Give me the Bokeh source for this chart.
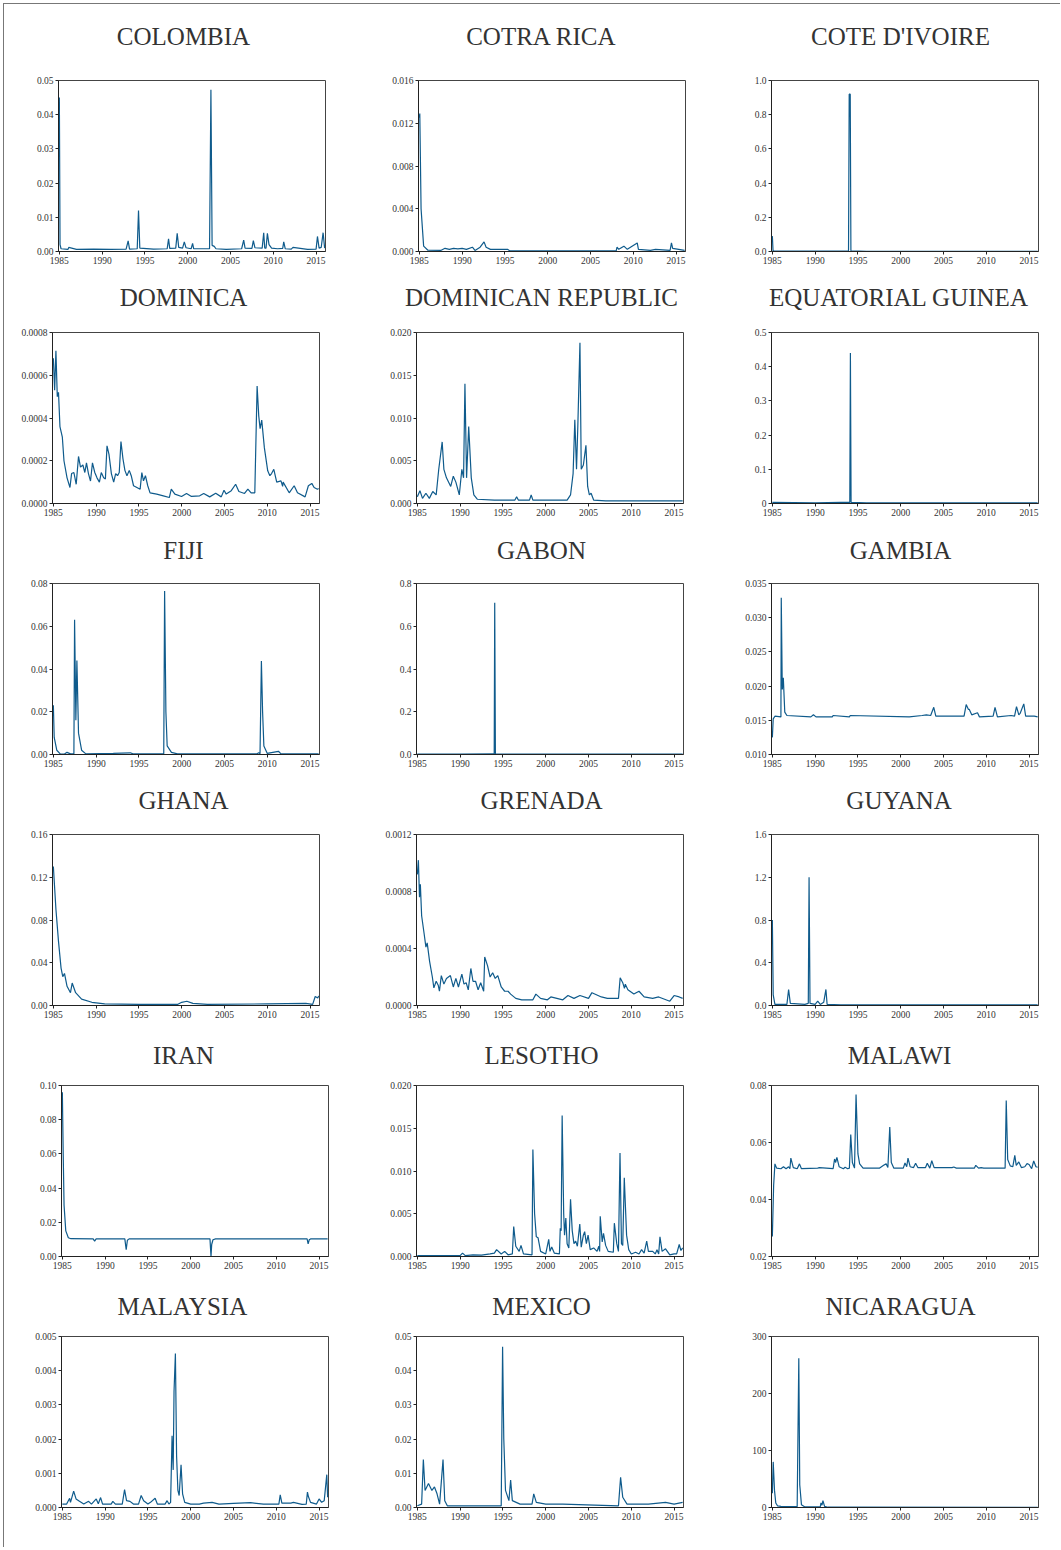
from bokeh.plotting import figure
from bokeh.models import Range1d, FixedTicker, Title
from bokeh.layouts import column, row
from bokeh.embed import file_html
from bokeh.resources import INLINE

# ---------------- data ----------------
x_ticks = [1985, 1990, 1995, 2000, 2005, 2010, 2015]
x_labels = ["1985", "1990", "1995", "2000", "2005", "2010", "2015"]

colombia_x = [1985.0, 1985.08, 1985.2, 1986.0, 1986.1, 1987.0, 1989.0, 1991.0, 1992.8, 1993.04, 1993.2, 1994.1, 1994.25, 1994.4,
              1996.0, 1997.6, 1997.76, 1997.9, 1998.6, 1998.77, 1998.95, 1999.4, 1999.6, 1999.8, 2000.4, 2000.57, 2000.7,
              2002.55, 2002.71, 2002.85, 2003.1, 2003.3, 2004.5, 2006.3, 2006.54, 2006.7, 2007.5, 2007.67, 2007.85, 2008.7,
              2008.88, 2009.0, 2009.15, 2009.31, 2009.5, 2009.8, 2010.5, 2011.1, 2011.22, 2011.4, 2012.1, 2012.3, 2014.0,
              2015.0, 2015.16, 2015.35, 2015.6, 2015.82, 2016.0]
colombia_y = [0.045, 0.002, 0.0008, 0.0006, 0.0012, 0.0006, 0.0007, 0.0006, 0.0007, 0.0031, 0.0007, 0.0008, 0.012, 0.001,
              0.0007, 0.0008, 0.0037, 0.0009, 0.0010, 0.0053, 0.0012, 0.0010, 0.0028, 0.0011, 0.0008, 0.0024, 0.0008,
              0.0008, 0.0473, 0.0018, 0.0015, 0.0008, 0.0006, 0.0008, 0.0033, 0.0010, 0.0009, 0.0032, 0.0011, 0.0010,
              0.0055, 0.0010, 0.0010, 0.0053, 0.0020, 0.0010, 0.0008, 0.0009, 0.0028, 0.0008, 0.0007, 0.0012, 0.0006,
              0.0007, 0.0044, 0.0010, 0.0012, 0.0055, 0.0010]

costarica_x = [1985.0, 1985.05, 1985.2, 1985.5, 1986.0, 1987.5, 1988.0, 1988.5, 1989.0, 1989.5, 1990.0, 1990.5, 1991.2,
               1991.5, 1992.1, 1992.56, 1992.8, 1993.3, 1995.3, 1995.6, 2008.0, 2008.1, 2008.3, 2008.9, 2009.3, 2010.46,
               2010.6, 2012.0, 2012.6, 2014.3, 2014.46, 2014.6, 2015.3, 2016.0]
costarica_y = [0.0125, 0.0129, 0.004, 0.0005, 0.00012, 0.0001, 0.0003, 0.0002, 0.0003, 0.00025, 0.0003, 0.0002, 0.0004,
               0.0001, 0.0004, 0.0009, 0.0004, 0.0002, 0.0002, 0.00005, 0.00005, 0.0004, 0.0002, 0.0005, 0.0002, 0.0008,
               0.0002, 0.0001, 0.0002, 0.0001, 0.0008, 0.0003, 0.0002, 0.0001]

cotedivoire_x = [1985.0, 1985.08, 1985.2, 1990.0, 1992.0, 1993.9, 1993.98, 1994.1, 1994.18, 1996.0, 2005.0, 2016.0]
cotedivoire_y = [0.09, 0.005, 0.002, 0.002, 0.003, 0.004, 0.92, 0.92, 0.004, 0.001, 0.001, 0.001]

dominica_x = [1985.0, 1985.15, 1985.3, 1985.46, 1985.6, 1985.77, 1986.05, 1986.24, 1986.6, 1986.94, 1987.13, 1987.4,
              1987.67, 1987.94, 1988.17, 1988.45, 1988.68, 1988.87, 1989.1, 1989.34, 1989.57, 1989.84, 1990.1, 1990.38,
              1990.6, 1990.88, 1991.08, 1991.27, 1991.5, 1991.78, 1992.05, 1992.28, 1992.5, 1992.7, 1992.9, 1993.13,
              1993.36, 1993.6, 1993.87, 1994.1, 1994.37, 1994.76, 1995.14, 1995.34, 1995.53, 1995.76, 1996.03, 1996.3,
              1997.08, 1997.85, 1998.55, 1998.78, 1999.2, 1999.98, 2000.56, 2001.14, 2002.1, 2002.57, 2003.27, 2003.97,
              2004.62, 2004.94, 2005.2, 2005.79, 2006.3, 2006.68, 2007.34, 2007.73, 2008.11, 2008.54, 2008.81, 2009.0,
              2009.16, 2009.35, 2009.66, 2010.05, 2010.3, 2010.5, 2010.76, 2011.1, 2011.6, 2011.79, 2011.85, 2012.56,
              2013.14, 2013.53, 2014.42, 2014.8, 2015.2, 2015.47, 2015.86, 2016.0]
dominica_y = [0.00068, 0.00053, 0.000714, 0.0005, 0.00052, 0.00036, 0.00031, 0.0002, 0.00012, 0.000075, 0.00014, 0.000145,
              0.00009, 0.00022, 0.00017, 0.00018, 0.000145, 0.00019, 0.00014, 0.000105, 0.00019, 0.000145, 0.00012, 0.0001,
              0.000145, 0.00012, 0.000115, 0.00027, 0.00023, 0.00014, 0.0001, 0.00014, 0.00013, 0.000145, 0.00029, 0.00021,
              0.000155, 0.00013, 0.000155, 0.00013, 0.000083, 0.000075, 0.000067, 0.000145, 0.000106, 0.00013, 0.000083,
              0.00005, 0.000044, 0.000036, 0.000028, 0.000067, 0.000044, 0.000033, 0.000047, 0.000033, 0.000036, 0.000047,
              0.000031, 0.000048, 0.000031, 0.000062, 0.000044, 0.00006, 0.00009, 0.000056, 0.000047, 0.000067, 0.00005,
              0.00005, 0.00055, 0.00041, 0.00035, 0.00039, 0.00026, 0.000153, 0.00013, 0.00014, 0.00016, 0.0001, 0.000106,
              0.00008, 0.0001, 0.00005, 0.000083, 0.00005, 0.000031, 0.000083, 0.000094, 0.000075, 0.000067, 0.00007]

domrep_x = [1985.0, 1985.3, 1985.6, 1986.0, 1986.4, 1986.8, 1987.2, 1987.5, 1987.9, 1988.1, 1988.4, 1988.9, 1989.2, 1989.5,
            1989.9, 1990.2, 1990.4, 1990.56, 1990.75, 1991.0, 1991.3, 1991.6, 1992.0, 1994.0, 1996.4, 1996.6, 1996.8, 1998.1,
            1998.3, 1998.5, 2002.5, 2002.9, 2003.2, 2003.4, 2003.6, 2003.75, 2004.0, 2004.15, 2004.4, 2004.7, 2004.9, 2005.1,
            2005.3, 2005.6, 2007.0, 2010.0, 2016.0]
domrep_y = [0.0008, 0.0015, 0.0006, 0.0012, 0.0006, 0.0014, 0.001, 0.004, 0.0072, 0.004, 0.003, 0.002, 0.0032, 0.0025,
            0.001, 0.004, 0.003, 0.014, 0.003, 0.009, 0.003, 0.001, 0.0005, 0.0004, 0.0004, 0.0008, 0.0004, 0.0004,
            0.001, 0.0004, 0.0004, 0.001, 0.0035, 0.0098, 0.004, 0.009, 0.0188, 0.004, 0.0045, 0.0068, 0.002, 0.001,
            0.0012, 0.0004, 0.0003, 0.0003, 0.0003]

eqguinea_x = [1985.0, 1990.0, 1993.0, 1994.05, 1994.12, 1994.2, 1996.0, 2005.0, 2016.0]
eqguinea_y = [0.003, 0.002, 0.003, 0.003, 0.44, 0.003, 0.002, 0.002, 0.002]

fiji_x = [1985.0, 1985.1, 1985.4, 1985.8, 1986.3, 1986.6, 1987.0, 1987.4, 1987.48, 1987.63, 1987.75, 1987.94, 1988.3,
          1988.8, 1992.0, 1994.0, 1994.3, 1997.9, 1998.0, 1998.15, 1998.3, 1998.8, 1999.5, 2008.8, 2009.0, 2009.15,
          2009.31, 2009.45, 2009.6, 2010.0, 2011.3, 2011.6, 2016.0]
fiji_y = [0.023, 0.008, 0.002, 0.0003, 0.0002, 0.001, 0.0003, 0.0003, 0.063, 0.016, 0.044, 0.01, 0.002, 0.0003, 0.0005,
          0.0008, 0.0003, 0.0003, 0.0765, 0.02, 0.004, 0.001, 0.0003, 0.0003, 0.0008, 0.0003, 0.0437, 0.02, 0.004,
          0.0005, 0.0015, 0.0003, 0.0003]

gabon_x = [1985.0, 1990.0, 1993.9, 1993.98, 1994.04, 1994.12, 1996.0, 2005.0, 2016.0]
gabon_y = [0.002, 0.002, 0.003, 0.003, 0.71, 0.003, 0.002, 0.002, 0.002]

gambia_x = [1985.0, 1985.1, 1985.3, 1986.0, 1986.04, 1986.16, 1986.28, 1986.45, 1986.7, 1989.5, 1989.8, 1990.1, 1992.0,
            1992.1, 1994.0, 1994.1, 2001.0, 2002.5, 2003.0, 2003.5, 2003.86, 2004.1, 2007.4, 2007.65, 2007.9, 2008.0,
            2008.3, 2008.97, 2009.2, 2010.8, 2011.02, 2011.3, 2012.9, 2013.3, 2013.53, 2013.8, 2013.95, 2014.38, 2014.6,
            2015.6, 2016.0]
gambia_y = [0.0125, 0.0152, 0.0156, 0.0155, 0.0329, 0.0195, 0.0212, 0.0162, 0.0157, 0.0155, 0.0158, 0.0155, 0.0155,
            0.0157, 0.0155, 0.0157, 0.0155, 0.0157, 0.0158, 0.0157, 0.0169, 0.0156, 0.0156, 0.0173, 0.0166, 0.0166,
            0.0158, 0.0161, 0.0155, 0.0156, 0.0169, 0.0155, 0.0157, 0.0156, 0.0170, 0.0158, 0.0160, 0.0174, 0.0156,
            0.0156, 0.0155]

ghana_x = [1985.0, 1985.3, 1985.6, 1985.9, 1986.1, 1986.3, 1986.6, 1987.0, 1987.2, 1987.6, 1988.3, 1989.5, 1991.0,
           1995.0, 1999.5, 2000.0, 2000.6, 2001.3, 2003.0, 2010.0, 2014.5, 2015.3, 2015.6, 2015.9, 2016.0]
ghana_y = [0.13, 0.09, 0.06, 0.035, 0.027, 0.03, 0.018, 0.012, 0.021, 0.012, 0.006, 0.003, 0.0015, 0.001, 0.001,
           0.003, 0.004, 0.002, 0.001, 0.0015, 0.002, 0.001, 0.0084, 0.007, 0.009]

grenada_x = [1985.0, 1985.12, 1985.25, 1985.35, 1985.5, 1985.8, 1986.0, 1986.15, 1986.43, 1986.75, 1986.93, 1987.2,
             1987.45, 1987.58, 1987.8, 1988.1, 1988.4, 1988.86, 1989.2, 1989.5, 1989.8, 1990.2, 1990.45, 1990.7, 1990.95,
             1991.25, 1991.5, 1991.8, 1992.1, 1992.4, 1992.75, 1992.87, 1993.2, 1993.5, 1993.8, 1994.1, 1994.4, 1994.8,
             1995.2, 1995.6, 1995.9, 1996.5, 1997.2, 1998.5, 1998.85, 1999.4, 2000.2, 2000.6, 2002.0, 2002.6, 2003.3,
             2004.0, 2005.0, 2005.4, 2006.5, 2007.2, 2008.5, 2008.7, 2009.0, 2009.2, 2009.3, 2009.6, 2010.3, 2010.9,
             2011.5, 2012.5, 2013.2, 2014.5, 2015.0, 2015.6, 2016.0]
grenada_y = [0.00092, 0.00102, 0.00076, 0.00085, 0.00063, 0.0005, 0.00041, 0.00044, 0.00031, 0.0002, 0.000124, 0.00017,
             0.00014, 0.0001, 0.00021, 0.00015, 0.00019, 0.00021, 0.00013, 0.00019, 0.00013, 0.00022, 0.00015, 0.00016,
             0.00011, 0.00026, 0.00017, 0.00017, 0.00011, 0.00016, 0.0001, 0.00034, 0.00028, 0.0002, 0.00023, 0.00019,
             0.00021, 0.00013, 0.0001, 0.0001, 0.00008, 0.00005, 0.00004, 0.00004, 0.00008, 0.00005, 0.00004, 0.00006,
             0.00004, 0.00007, 0.00005, 0.00007, 0.00005, 0.00009, 0.00006, 0.00005, 0.00005, 0.000195, 0.00016,
             0.00012, 0.00015, 0.00011, 0.00008, 0.0001, 0.00006, 0.00005, 0.00006, 0.00003, 0.00007, 0.00006, 0.00005]

guyana_x = [1985.0, 1985.1, 1985.3, 1986.7, 1986.9, 1987.1, 1988.8, 1989.2, 1989.29, 1989.4, 1990.0, 1990.3, 1990.6,
            1991.0, 1991.26, 1991.4, 1993.0, 2016.0]
guyana_y = [0.8, 0.1, 0.01, 0.01, 0.15, 0.02, 0.01, 0.02, 1.2, 0.02, 0.01, 0.04, 0.01, 0.03, 0.15, 0.01, 0.005, 0.005]

iran_x = [1985.0, 1985.1, 1985.2, 1985.4, 1985.7, 1986.0, 1988.6, 1988.77, 1988.95, 1992.3, 1992.46, 1992.6, 1992.8,
          2002.25, 2002.37, 2002.45, 2002.6, 2002.9, 2013.6, 2013.72, 2013.85, 2014.0, 2016.0]
iran_y = [0.096, 0.06, 0.03, 0.015, 0.011, 0.0104, 0.0103, 0.009, 0.0103, 0.0103, 0.004, 0.0095, 0.0103, 0.0103, 0.0,
          0.007, 0.0098, 0.0103, 0.0103, 0.0074, 0.0098, 0.0103, 0.0103]

lesotho_x = [1985.0, 1990.0, 1990.28, 1990.6, 1991.5, 1992.5, 1993.5, 1994.0, 1994.26, 1994.8, 1995.2, 1995.6, 1996.1,
             1996.26, 1996.5, 1996.9, 1997.11, 1997.4, 1998.4, 1998.5, 1998.7, 1998.9, 1999.1, 1999.4, 2000.0, 2000.35,
             2000.5, 2000.7, 2001.0, 2001.6, 2001.7, 2001.8, 2001.92, 2002.1, 2002.2, 2002.35, 2002.5, 2002.7, 2002.9,
             2003.1, 2003.3, 2003.5, 2003.7, 2003.98, 2004.15, 2004.4, 2004.55, 2004.75, 2004.95, 2005.2, 2005.6, 2006.0,
             2006.2, 2006.3, 2006.37, 2006.6, 2006.75, 2007.0, 2007.3, 2007.9, 2008.02, 2008.3, 2008.5, 2008.68, 2008.85,
             2009.0, 2009.18, 2009.45, 2009.7, 2010.0, 2010.5, 2010.9, 2011.2, 2011.5, 2011.8, 2012.0, 2012.5, 2012.8,
             2013.0, 2013.2, 2013.35, 2013.6, 2014.0, 2014.5, 2015.0, 2015.3, 2015.6, 2015.8, 2016.0]
lesotho_y = [0.0001, 0.0001, 0.0004, 0.0001, 0.0002, 0.00015, 0.0003, 0.0004, 0.0008, 0.0003, 0.0006, 0.0002, 0.0003,
             0.0035, 0.0012, 0.0006, 0.0013, 0.0003, 0.0002, 0.0125, 0.005, 0.0023, 0.0022, 0.0006, 0.0003, 0.002,
             0.0006, 0.0011, 0.0004, 0.0003, 0.0033, 0.003, 0.0165, 0.005, 0.0025, 0.0045, 0.0015, 0.001, 0.0067,
             0.003, 0.0015, 0.0018, 0.0012, 0.0038, 0.0011, 0.0025, 0.0029, 0.0015, 0.0025, 0.0008, 0.001, 0.0006,
             0.0012, 0.0006, 0.0047, 0.0017, 0.0027, 0.0013, 0.0006, 0.0005, 0.0039, 0.0015, 0.0006, 0.0121, 0.0015,
             0.0013, 0.0092, 0.0025, 0.0008, 0.0003, 0.0005, 0.0003, 0.0008, 0.0004, 0.0018, 0.0006, 0.0006, 0.0003,
             0.0008, 0.0003, 0.0023, 0.0006, 0.0009, 0.0002, 0.0003, 0.0003, 0.0014, 0.0007, 0.001]

malawi_x = [1985.0, 1985.15, 1985.3, 1985.5, 1986.0, 1986.3, 1986.6, 1986.9, 1987.05, 1987.16, 1987.45, 1987.9, 1988.17,
            1988.4, 1990.3, 1990.5, 1992.1, 1992.27, 1992.4, 1992.54, 1992.8, 1993.3, 1993.5, 1993.8, 1994.0, 1994.16,
            1994.35, 1994.6, 1994.78, 1995.0, 1995.2, 1995.6, 1997.5, 1998.0, 1998.3, 1998.5, 1998.72, 1998.9, 1999.2,
            2000.3, 2000.5, 2000.7, 2000.85, 2001.1, 2001.5, 2001.74, 2002.0, 2002.9, 2003.1, 2003.4, 2003.63, 2003.9,
            2006.0, 2006.2, 2006.5, 2008.6, 2008.77, 2009.1, 2009.4, 2009.7, 2012.2, 2012.33, 2012.5, 2012.8, 2013.1,
            2013.33, 2013.5, 2013.8, 2014.1, 2014.5, 2014.76, 2015.0, 2015.3, 2015.54, 2015.8, 2016.0]
malawi_y = [0.027, 0.045, 0.0525, 0.051, 0.0508, 0.0515, 0.0508, 0.0515, 0.0508, 0.0545, 0.0512, 0.0508, 0.0525,
            0.0508, 0.051, 0.0512, 0.0508, 0.0542, 0.053, 0.0548, 0.0515, 0.0508, 0.0513, 0.0508, 0.051, 0.0628,
            0.053, 0.051, 0.0768, 0.056, 0.0525, 0.051, 0.051, 0.052, 0.0525, 0.0512, 0.0654, 0.053, 0.051, 0.051,
            0.0528, 0.0515, 0.0545, 0.0515, 0.0512, 0.0527, 0.0512, 0.0512, 0.0527, 0.051, 0.0536, 0.0512, 0.0512,
            0.0514, 0.051, 0.051, 0.052, 0.051, 0.0512, 0.051, 0.051, 0.0747, 0.054, 0.0518, 0.0515, 0.0555, 0.052,
            0.0532, 0.0512, 0.0515, 0.0526, 0.0523, 0.0508, 0.0535, 0.0515, 0.0513]

malaysia_x = [1985.0, 1985.5, 1985.85, 1985.95, 1986.32, 1986.6, 1987.0, 1987.5, 1988.07, 1988.4, 1988.96, 1989.2,
              1989.47, 1989.7, 1990.7, 1990.9, 1991.2, 1992.0, 1992.27, 1992.5, 1992.9, 1993.3, 1993.9, 1994.21, 1994.5,
              1995.0, 1995.3, 1995.84, 1996.1, 1997.0, 1997.24, 1997.45, 1997.65, 1997.82, 1997.95, 1998.05, 1998.21,
              1998.35, 1998.5, 1998.65, 1998.87, 1999.05, 1999.3, 2000.0, 2001.0, 2001.5, 2002.5, 2003.3, 2005.0, 2007.0,
              2008.5, 2010.0, 2010.3, 2010.46, 2010.65, 2011.7, 2012.0, 2013.0, 2013.5, 2013.64, 2013.75, 2014.0, 2014.7,
              2015.0, 2015.3, 2015.6, 2015.9, 2016.0]
malaysia_y = [0.0001, 0.0001, 0.00027, 0.00015, 0.00048, 0.00025, 0.00018, 0.0001, 0.00018, 0.0001, 0.00025, 0.00011,
              0.00029, 0.0001, 0.0001, 0.00018, 0.0001, 0.0001, 0.00052, 0.0002, 0.00018, 0.0001, 0.0001, 0.00035, 0.0002,
              0.0001, 0.00015, 0.00027, 0.0001, 0.0001, 0.0002, 0.0001, 0.00015, 0.0021, 0.0011, 0.0034, 0.0045, 0.0015,
              0.0005, 0.00035, 0.00125, 0.0004, 0.00015, 0.0001, 0.0001, 0.00013, 0.00015, 0.0001, 0.00012, 0.00014,
              0.0001, 0.0001, 0.0001, 0.00037, 0.00013, 0.00013, 0.00015, 0.00009, 0.0001, 0.00045, 0.00032, 0.00015,
              0.0001, 0.00025, 0.00015, 0.0002, 0.00096, 0.0003]

mexico_x = [1985.0, 1985.5, 1985.7, 1985.9, 1986.3, 1986.7, 1987.0, 1987.3, 1987.6, 1988.0, 1988.2, 1988.5, 1994.8,
            1994.96, 1995.1, 1995.3, 1995.7, 1995.9, 1996.1, 1997.0, 1998.4, 1998.6, 1998.9, 2000.0, 2002.0, 2008.5,
            2008.75, 2009.0, 2009.5, 2012.0, 2014.0, 2015.0, 2016.0]
mexico_y = [0.0005, 0.001, 0.014, 0.005, 0.007, 0.005, 0.006, 0.004, 0.001, 0.014, 0.002, 0.0005, 0.0005, 0.047,
            0.02, 0.005, 0.002, 0.008, 0.002, 0.001, 0.001, 0.004, 0.0015, 0.001, 0.001, 0.0005, 0.0088, 0.003, 0.001,
            0.001, 0.0015, 0.001, 0.0015]

nicaragua_x = [1985.0, 1985.1, 1985.25, 1985.4, 1985.6, 1986.0, 1986.5, 1987.9, 1988.09, 1988.2, 1988.4, 1988.8,
               1990.6, 1990.68, 1990.8, 1990.91, 1991.1, 1991.5, 2016.0]
nicaragua_y = [25, 80, 30, 8, 3, 2, 1.5, 1.5, 262, 40, 5, 1, 1, 8, 4, 12, 2, 0.5, 0.3]

# y-axis limits and tick labels per panel
panels = [
    ("COLOMBIA", colombia_x, colombia_y, 0, 0.05,
     [0, 0.01, 0.02, 0.03, 0.04, 0.05], ["0.00", "0.01", "0.02", "0.03", "0.04", "0.05"]),
    ("COTRA RICA", costarica_x, costarica_y, 0, 0.016,
     [0, 0.004, 0.008, 0.012, 0.016], ["0.000", "0.004", "0.008", "0.012", "0.016"]),
    ("COTE D'IVOIRE", cotedivoire_x, cotedivoire_y, 0, 1.0,
     [0, 0.2, 0.4, 0.6, 0.8, 1.0], ["0.0", "0.2", "0.4", "0.6", "0.8", "1.0"]),
    ("DOMINICA", dominica_x, dominica_y, 0, 0.0008,
     [0, 0.0002, 0.0004, 0.0006, 0.0008], ["0.0000", "0.0002", "0.0004", "0.0006", "0.0008"]),
    ("DOMINICAN REPUBLIC", domrep_x, domrep_y, 0, 0.02,
     [0, 0.005, 0.01, 0.015, 0.02], ["0.000", "0.005", "0.010", "0.015", "0.020"]),
    ("EQUATORIAL GUINEA", eqguinea_x, eqguinea_y, 0, 0.5,
     [0, 0.1, 0.2, 0.3, 0.4, 0.5], ["0", "0.1", "0.2", "0.3", "0.4", "0.5"]),
    ("FIJI", fiji_x, fiji_y, 0, 0.08,
     [0, 0.02, 0.04, 0.06, 0.08], ["0.00", "0.02", "0.04", "0.06", "0.08"]),
    ("GABON", gabon_x, gabon_y, 0, 0.8,
     [0, 0.2, 0.4, 0.6, 0.8], ["0.0", "0.2", "0.4", "0.6", "0.8"]),
    ("GAMBIA", gambia_x, gambia_y, 0.01, 0.035,
     [0.01, 0.015, 0.02, 0.025, 0.03, 0.035], ["0.010", "0.015", "0.020", "0.025", "0.030", "0.035"]),
    ("GHANA", ghana_x, ghana_y, 0, 0.16,
     [0, 0.04, 0.08, 0.12, 0.16], ["0.00", "0.04", "0.08", "0.12", "0.16"]),
    ("GRENADA", grenada_x, grenada_y, 0, 0.0012,
     [0, 0.0004, 0.0008, 0.0012], ["0.0000", "0.0004", "0.0008", "0.0012"]),
    ("GUYANA", guyana_x, guyana_y, 0, 1.6,
     [0, 0.4, 0.8, 1.2, 1.6], ["0.0", "0.4", "0.8", "1.2", "1.6"]),
    ("IRAN", iran_x, iran_y, 0, 0.10,
     [0, 0.02, 0.04, 0.06, 0.08, 0.1], ["0.00", "0.02", "0.04", "0.06", "0.08", "0.10"]),
    ("LESOTHO", lesotho_x, lesotho_y, 0, 0.02,
     [0, 0.005, 0.01, 0.015, 0.02], ["0.000", "0.005", "0.010", "0.015", "0.020"]),
    ("MALAWI", malawi_x, malawi_y, 0.02, 0.08,
     [0.02, 0.04, 0.06, 0.08], ["0.02", "0.04", "0.06", "0.08"]),
    ("MALAYSIA", malaysia_x, malaysia_y, 0, 0.005,
     [0, 0.001, 0.002, 0.003, 0.004, 0.005], ["0.000", "0.001", "0.002", "0.003", "0.004", "0.005"]),
    ("MEXICO", mexico_x, mexico_y, 0, 0.05,
     [0, 0.01, 0.02, 0.03, 0.04, 0.05], ["0.00", "0.01", "0.02", "0.03", "0.04", "0.05"]),
    ("NICARAGUA", nicaragua_x, nicaragua_y, 0, 300,
     [0, 100, 200, 300], ["0", "100", "200", "300"]),
]

# ---------------- styling / layout ----------------
LINE = "#0f5b8c"
SERIF = "Liberation Serif"
TITLE_PX = 25
# Times/Liberation Serif advance widths (1/1000 em) used to centre titles on each cell
TNR_W = {"A": 722, "B": 667, "C": 667, "D": 722, "E": 611, "F": 556, "G": 722, "H": 722, "I": 333, "J": 389,
         "K": 722, "L": 611, "M": 889, "N": 722, "O": 722, "P": 556, "Q": 722, "R": 667, "S": 556, "T": 611,
         "U": 722, "V": 722, "W": 944, "X": 722, "Y": 722, "Z": 611, " ": 250, "'": 180}

col_widths = [361, 355, 340]
col_left = [4, 365, 720]                   # page x of each cell's left edge
title_center = [183, 541, 900]             # page x of each column's title centre
frame_left = [[54, 53, 51], [48, 51, 51], [48, 51, 51], [48, 51, 51], [57, 51, 51], [57, 51, 51]]
title_gap = [44, 35, 33, 34, 30, 30]       # distance title centre -> frame top
FRAME_W = 267
FRAME_H = 171

rows = []
for r in range(6):
    figs = []
    for c in range(3):
        name, xs, ys, y0, y1, yt, yl = panels[r * 3 + c]
        top = 76 if r == 0 else 62
        bottom = 19 if r == 0 else 18
        w = col_widths[c]
        left = frame_left[r][c]
        p = figure(width=w, height=top + FRAME_H + bottom, output_backend="svg", toolbar_location=None,
                   x_range=Range1d(1984.9, 2016.1), y_range=Range1d(y0, y1),
                   min_border_left=left, min_border_right=w - left - FRAME_W,
                   min_border_top=top, min_border_bottom=bottom)
        p.line(xs, ys, line_color=LINE, line_width=1.2)
        p.grid.visible = False
        p.outline_line_color = "#444444"
        p.outline_line_width = 1
        # invisible spacer between frame and title
        p.add_layout(Title(text=" ", text_font_size="1px", standoff=max(0, title_gap[r] - 21)), "above")
        tw = sum(TNR_W.get(ch, 600) for ch in name) / 1000 * TITLE_PX
        p.title.text = name
        p.title.align = "left"
        p.title.offset = (title_center[c] - col_left[c]) - left - tw / 2
        p.title.text_font = SERIF
        p.title.text_font_size = f"{TITLE_PX}px"
        p.title.text_font_style = "normal"
        p.title.text_color = "#333333"
        p.xaxis.ticker = FixedTicker(ticks=x_ticks)
        p.xaxis.major_label_overrides = dict(zip(x_ticks, x_labels))
        p.yaxis.ticker = FixedTicker(ticks=yt)
        p.yaxis.major_label_overrides = dict(zip(yt, yl))
        for ax in (p.xaxis[0], p.yaxis[0]):
            ax.major_label_text_font = SERIF
            ax.major_label_text_font_size = "9.5px"
            ax.major_label_text_color = "#333333"
            ax.axis_line_color = "#222222"
            ax.major_tick_line_color = "#222222"
            ax.major_tick_out = 3
            ax.major_tick_in = 0
            ax.minor_tick_line_color = None
            ax.major_label_standoff = 2
        figs.append(p)
    rows.append(row(*figs, spacing=0))

layout = column(*rows, spacing=0,
                styles={"margin-left": "3px", "margin-top": "3px", "padding-bottom": "22px",
                        "border-left": "1px solid #777", "border-top": "1px solid #777"})

open("out.html", "w").write(file_html(layout, INLINE))
